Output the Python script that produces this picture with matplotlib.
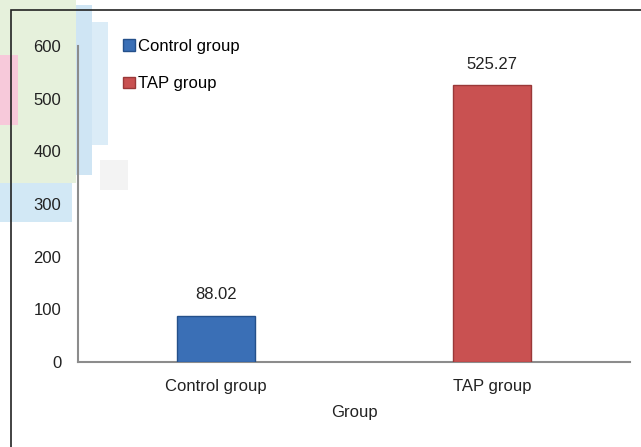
import matplotlib
matplotlib.use("Agg")
import matplotlib.pyplot as plt
from matplotlib.patches import Rectangle

plt.rcParams["font.family"] = ["Liberation Sans", "DejaVu Sans"]

groups = ["Control group", "TAP group"]
values = [88.02, 525.27]
colors = ["#3a6fb6", "#c95151"]
edges = ["#24508a", "#9a3838"]
yticks = [0, 100, 200, 300, 400, 500, 600]

W, H = 641, 447
fig = plt.figure(figsize=(W / 100, H / 100), dpi=100)

# background smudges at top-left (pixel boxes)
def px_rect(x0, y0, x1, y1, color):
    fig.patches.append(Rectangle((x0 / W, 1 - y1 / H), (x1 - x0) / W, (y1 - y0) / H,
                                 transform=fig.transFigure, color=color, lw=0, zorder=-5))

px_rect(0, 183, 72, 222, "#d2e8f5")
px_rect(72, 5, 92, 175, "#cfe5f4")
px_rect(92, 22, 108, 145, "#dbecf7")
px_rect(0, 0, 76, 183, "#e6f1dc")
px_rect(0, 55, 18, 125, "#f7c9da")
px_rect(100, 160, 128, 190, "#f3f3f3")

# outer frame
fig.patches.append(Rectangle((11 / W, -0.1), 1.2, 1 - 10 / H + 0.1, transform=fig.transFigure,
                             fill=False, ec="#222222", lw=1.2, zorder=-4))

ax = fig.add_axes([78 / W, 1 - 362 / H, (630 - 78) / W, (362 - 46) / H])
ax.patch.set_alpha(0)
ax.set_zorder(2)

x = range(len(groups))
bars = ax.bar(x, values, width=0.28, color=colors, edgecolor=edges, linewidth=1.0, zorder=3)
for b, g in zip(bars, groups):
    b.set_label(g)

for xi, v in zip(x, values):
    ax.text(xi, v + 25, f"{v:.2f}", ha="center", va="bottom", fontsize=12, color="#222222")

ax.set_xlim(-0.5, 1.5)
ax.set_ylim(0, 600)
ax.set_yticks(yticks)
ax.set_xticks(list(x))
ax.set_xticklabels(groups)
ax.tick_params(length=0, labelsize=12, colors="#222222")
ax.tick_params(axis="y", pad=12)
ax.tick_params(axis="x", pad=12)
ax.set_xlabel("Group", fontsize=12, color="#222222", labelpad=8)

for s in ["top", "right"]:
    ax.spines[s].set_visible(False)
for s in ["left", "bottom"]:
    ax.spines[s].set_color("#8c8c8c")
    ax.spines[s].set_linewidth(1.5)

leg = ax.legend(loc="upper left", bbox_to_anchor=(0.055, 1.07), frameon=False, fontsize=12,
                handlelength=0.7, handleheight=0.7, handletextpad=0.15, labelspacing=1.35)

fig.savefig("out.png", dpi=100)
